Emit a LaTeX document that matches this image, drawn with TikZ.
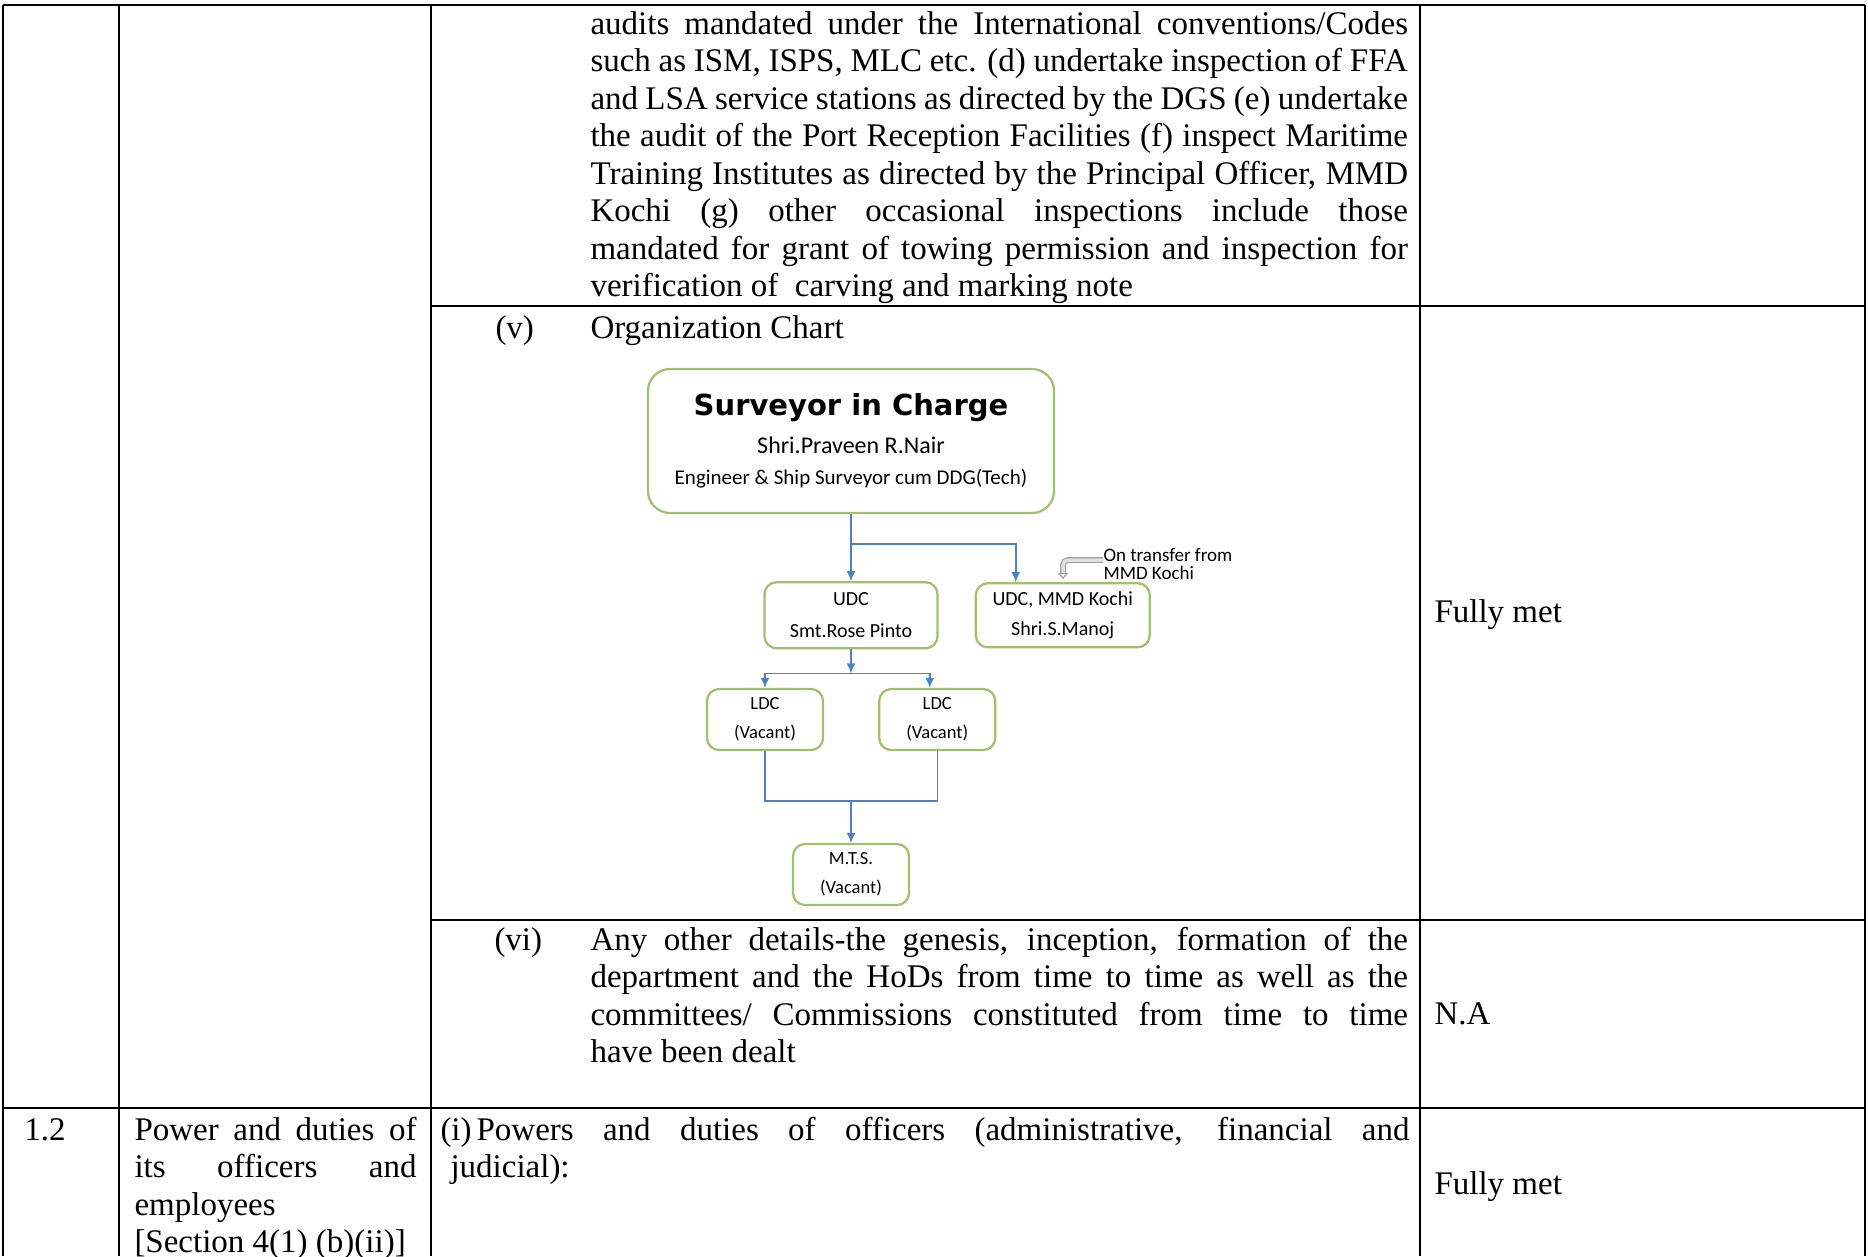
\documentclass[tikz,border=0pt]{standalone}
\usepackage{fontspec}
\setmainfont{Liberation Serif}
\newfontfamily\chartfont{Carlito}
\newfontfamily\titlefont{DejaVu Sans}
\usetikzlibrary{positioning,arrows.meta}

\definecolor{boxgreen}{RGB}{160,192,108}
\definecolor{linkblue}{RGB}{79,129,189}

\begin{document}
\begin{tikzpicture}[x=0.4pt,
					y=-0.4pt,
					rule/.style={line width=1.1pt},
					cell/.style={anchor=base west,inner sep=0pt,font=\fontsize{13.2}{15}\selectfont},
					para/.style={cell,text width=327pt,align=justify},
					post/.style={draw=boxgreen,line width=0.9pt,rounded corners=4.8pt,fill=white,align=center,inner sep=0pt},
					leaf/.style={post,minimum width=46.4pt,minimum height=24.4pt,font=\chartfont\fontsize{7.4}{11.4}\selectfont},
					link/.style={draw=linkblue,line width=0.6pt},
					arr/.style={link,-{Latex[length=4pt,width=3.6pt]}},
					callout/.style={draw=gray!75,double=gray!25,double distance=1.4pt,line width=0.45pt,rounded corners=2pt}]

  \useasboundingbox (0,0) rectangle (1868,1256);

  % table rules
  \foreach \x in {3,119,431,1420,1865}
    \draw[rule] (\x,5) -- (\x,1256);
  \draw[rule] (3,5) -- (1865,5);
  \draw[rule] (431,306) -- (1865,306);
  \draw[rule] (431,920) -- (1865,920);
  \draw[rule] (3,1108) -- (1865,1108);

  \node[para] (dutyiv) at (590,34) {audits mandated under the International conventions/Codes\linebreak
    such as ISM, ISPS, MLC etc. (d) undertake inspection of FFA\linebreak
    and LSA service stations as directed by the DGS (e) undertake\linebreak
    the audit of the Port Reception Facilities (f) inspect Maritime\linebreak
    Training Institutes as directed by the Principal Officer, MMD\linebreak
    Kochi (g) other occasional inspections include those\linebreak
    mandated for grant of towing permission and inspection for\linebreak
    verification of~ carving and marking note};

  \node[cell] (numv) at (495,338) {(v)};
  \node[cell] (headv) at (590,338) {Organization Chart};
  \node[cell] (metv) at (1434,622) {Fully met};

  \node[cell] (numvi) at (494,950) {(vi)};
  \node[para] (dutyvi) at (590,950) {Any other details-the genesis, inception, formation of the\linebreak
    department and the HoDs from time to time as well as the\linebreak
    committees/ Commissions constituted from time to time\linebreak
    have been dealt};
  \node[cell] (navi) at (1434,1024) {N.A};

  \node[cell] (sno) at (24,1140) {1.2};
  \node[cell,text width=112.8pt,align=justify] (item) at (134,1140) {Power and duties of\linebreak
    its officers and\linebreak employees\newline [Section 4(1) (b)(ii)]};
  \node[cell,text width=383.6pt,align=justify] (dutyi) at (450,1140)
    {\hspace*{-4pt}(i)\hspace{2pt}Powers and duties of officers (administrative, financial and\linebreak
    judicial):};
  \node[cell] (meti) at (1434,1194) {Fully met};

  % organization chart
  \node[post,rounded corners=8.8pt,minimum width=162.4pt,minimum height=57.6pt,
        font=\chartfont\fontsize{8.4}{12.6}\selectfont] (sic) at (851,441)
    {{\titlefont\bfseries\fontsize{11.6}{14}\selectfont Surveyor in Charge}\\[2.4pt]
     {\fontsize{9.6}{12}\selectfont Shri.Praveen R.Nair}\\
     Engineer \& Ship Surveyor cum DDG(Tech)};
  \node[post,minimum width=69.2pt,minimum height=26.4pt,
        font=\chartfont\fontsize{8}{12.8}\selectfont] (udc) [below=26.8pt of sic] {UDC\\Smt.Rose Pinto};
  \node[post,minimum width=69.6pt,minimum height=25.6pt,
        font=\chartfont\fontsize{8}{12}\selectfont] (udcm) [right=14.4pt of udc] {UDC, MMD Kochi\\Shri.S.Manoj};
  \node[leaf] (ldca) at (765,719.5) {LDC\\(Vacant)};
  \node[leaf] (ldcb) [right=21.6pt of ldca] {LDC\\(Vacant)};
  \node[leaf] (mts) at (851,874.5) {M.T.S.\\(Vacant)};

  \node[font=\chartfont\fontsize{7.6}{7.2}\selectfont,align=left,inner sep=0pt,anchor=west] (note) at (1103,564)
    {On transfer from\\MMD Kochi};
  \coordinate (notetip) at (1063,579);
  \draw[callout,-{Triangle[open,length=2.4pt,width=4pt]}] ([yshift=1.6pt]note.west) -| (notetip);

  \coordinate[below=12pt of sic.south] (forka);
  \coordinate[below=9.6pt of udc.south] (forkb);
  \coordinate[above=16.8pt of mts.north] (forkc);

  \draw[arr] (sic.south) -- (udc.north);
  \draw[arr] (forka) -| ([xshift=-18.8pt]udcm.north);
  \draw[arr] (udc.south) -- (forkb);
  \draw[arr] (forkb) -| (ldca.north);
  \draw[arr] (forkb) -| ([xshift=-3pt]ldcb.north);
  \draw[link] (ldca.south) |- (forkc) -| (ldcb.south);
  \draw[arr] (forkc) -- (mts.north);
\end{tikzpicture}
\end{document}
